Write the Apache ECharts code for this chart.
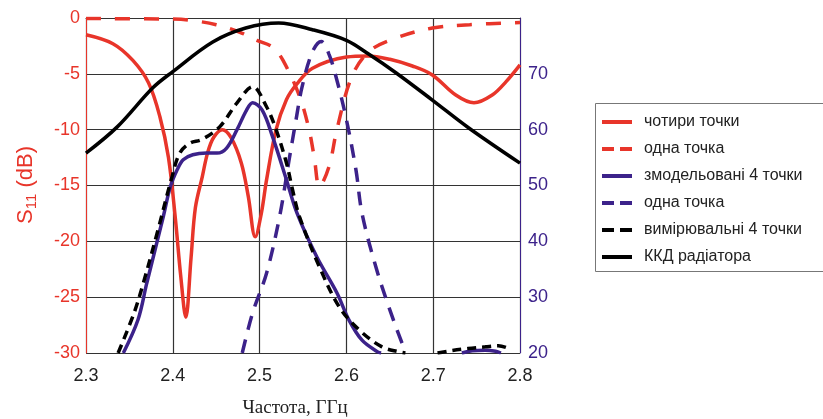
<!DOCTYPE html>
<html><head><meta charset="utf-8">
<script src="https://cdn.jsdelivr.net/npm/echarts@6/dist/echarts.min.js"></script>
<style>html,body{margin:0;padding:0;background:#fff}#c{width:823px;height:419px}</style>
</head><body><div id="c"></div>
<script>
// ---- data ----
const xTicks = [2.3, 2.4, 2.5, 2.6, 2.7, 2.8];
const leftTicks = [-30, -25, -20, -15, -10, -5, 0];
const rightTicks = [20, 30, 40, 50, 60, 70];

const seriesNames = ['чотири точки', 'одна точка', 'змодельовані 4 точки', 'одна точка ', 'вимірювальні 4 точки', 'ККД радіатора'];

// S11, four points (dB)
const redSolidX = [2.300, 2.331, 2.354, 2.372, 2.385, 2.395, 2.403, 2.409, 2.415, 2.421, 2.426, 2.434, 2.440, 2.447, 2.457, 2.467, 2.479, 2.487, 2.495, 2.502, 2.508, 2.519, 2.531, 2.543, 2.561, 2.600, 2.625, 2.650, 2.676, 2.699, 2.726, 2.747, 2.768, 2.784, 2.800];
const redSolidY = [-1.5, -2.3, -3.8, -5.8, -8.8, -12.5, -18.0, -23.0, -26.8, -21.5, -17.0, -14.2, -12.1, -10.7, -10.0, -10.7, -13.0, -16.0, -19.6, -17.5, -14.5, -10.0, -7.3, -5.9, -4.5, -3.5, -3.4, -3.7, -4.3, -5.1, -6.9, -7.6, -6.9, -5.7, -4.2];

// S11, one point (dB)
const redDashX = [2.300, 2.400, 2.420, 2.450, 2.478, 2.497, 2.515, 2.527, 2.546, 2.557, 2.563, 2.569, 2.580, 2.589, 2.606, 2.626, 2.657, 2.699, 2.742, 2.800];
const redDashY = [-0.05, -0.1, -0.2, -0.6, -1.3, -2.0, -2.6, -3.8, -7.0, -10.0, -12.5, -15.1, -13.3, -10.0, -5.3, -3.0, -1.8, -0.9, -0.6, -0.4];

// efficiency, simulated 4 points (%)
const purpleSolidX = [2.343, 2.360, 2.370, 2.389, 2.397, 2.405, 2.412, 2.423, 2.439, 2.451, 2.462, 2.474, 2.485, 2.492, 2.503, 2.515, 2.531, 2.543, 2.566, 2.589, 2.603, 2.618, 2.636, 2.640, 2.690, 2.733, 2.745, 2.760, 2.772, 2.778];
const purpleSolidY = [20, 26.0, 32.5, 44.4, 49.7, 52.8, 54.6, 55.5, 55.8, 55.8, 56.7, 60.0, 63.5, 64.8, 63.5, 58.7, 51.0, 45.1, 37.2, 30.8, 25.9, 22.3, 20.2, 20, null, 20, 20.4, 20.5, 20.3, 20];

// efficiency, one point (%)
const purpleDashX = [2.480, 2.492, 2.508, 2.523, 2.534, 2.542, 2.549, 2.561, 2.571, 2.580, 2.589, 2.600, 2.611, 2.618, 2.634, 2.649, 2.664, 2.667];
const purpleDashY = [20, 27.2, 34.3, 44.4, 54.6, 61.8, 67.7, 74.0, 75.8, 73.5, 68.9, 61.8, 52.8, 45.0, 35.4, 28.2, 21.8, 20.8];

// efficiency, measured 4 points (%)
const blackDashX = [2.337, 2.355, 2.366, 2.382, 2.399, 2.408, 2.420, 2.433, 2.454, 2.474, 2.492, 2.508, 2.519, 2.531, 2.538, 2.546, 2.569, 2.592, 2.615, 2.641, 2.661, 2.668, 2.690, 2.705, 2.720, 2.740, 2.760, 2.775, 2.790];
const blackDashY = [20, 27.0, 32.5, 41.5, 51.5, 55.8, 57.6, 58.2, 60.5, 64.8, 67.7, 64.1, 60.0, 54.0, 49.2, 44.4, 35.4, 28.2, 24.1, 21.1, 20.2, 20, null, 20, 20.4, 20.8, 21.1, 21.3, 20.6];

// radiator efficiency (%)
const blackSolidX = [2.300, 2.336, 2.377, 2.400, 2.446, 2.484, 2.522, 2.561, 2.600, 2.626, 2.657, 2.699, 2.741, 2.800];
const blackSolidY = [55.8, 60.5, 67.5, 70.4, 75.7, 78.2, 79.1, 77.9, 76.0, 73.5, 70.2, 65.3, 60.3, 54.0];

// ---- build ----
const RED = '#e8352a', PURPLE = '#3c228a', BLACK = '#000000';
const zip = (xs, ys) => xs.map((x, i) => [x, ys[i] === null ? '-' : ys[i]]);
const FONT = 'Arial, "Liberation Sans", sans-serif';

const chart = echarts.init(document.getElementById('c'), null, {renderer: 'canvas'});
function line(name, xs, ys, color, type, yIndex, width) {
  return {
    name, type: 'line', yAxisIndex: yIndex, data: zip(xs, ys),
    smooth: 0.35, symbol: 'none', connectNulls: false,
    lineStyle: {color, width: width || 3.5, type: type},
    itemStyle: {color}, animation: false
  };
}
const legendData = seriesNames.map((n, i) =>
  (i === 1 || i === 3 || i === 4) ? {name: n, lineStyle: {type: [12, 6], width: 4}} : {name: n});

chart.setOption({
  animation: false,
  grid: {left: 86, top: 18, width: 434, height: 335, containLabel: false},
  xAxis: {
    type: 'value', min: xTicks[0], max: xTicks[xTicks.length - 1], interval: 0.1,
    axisLine: {show: true, lineStyle: {color: '#333', width: 1}},
    axisTick: {show: false},
    splitLine: {show: true, lineStyle: {color: '#333', width: 1.2}},
    axisLabel: {color: '#222', fontSize: 18, fontFamily: FONT, margin: 14,
      formatter: v => xTicks.some(t => Math.abs(t - v) < 1e-6) ? v.toFixed(1) : ''}
  },
  yAxis: [{
    type: 'value', min: leftTicks[0], max: leftTicks[leftTicks.length - 1], interval: 5,
    axisLine: {show: true, lineStyle: {color: RED, width: 1}},
    axisTick: {show: false},
    splitLine: {show: true, lineStyle: {color: '#333', width: 1.2}},
    axisLabel: {color: RED, fontSize: 18, fontFamily: FONT, margin: 6}
  }, {
    type: 'value', position: 'right', min: 20, max: 80, interval: 10,
    axisLine: {show: true, lineStyle: {color: PURPLE, width: 1}},
    axisTick: {show: false},
    splitLine: {show: false},
    axisLabel: {color: PURPLE, fontSize: 18, fontFamily: FONT, margin: 8,
      formatter: v => rightTicks.indexOf(v) >= 0 ? String(v) : ''}
  }],
  legend: {
    data: legendData, orient: 'vertical', left: 600, top: 114, padding: 0,
    itemWidth: 30, itemHeight: 14, itemGap: 11,
    itemStyle: {opacity: 0},
    lineStyle: {width: 4},
    textStyle: {color: '#222', fontSize: 16, fontFamily: FONT, padding: [0, 0, 0, 7]}
  },
  graphic: [
    {type: 'rect', shape: {x: 595.5, y: 103.5, width: 240, height: 168}, style: {fill: 'none', stroke: '#777', lineWidth: 1}, silent: true},
    {type: 'text', x: 295, y: 408, style: {text: 'Частота, ГГц', font: '19px "Liberation Serif", "Times New Roman", serif', fill: '#222', align: 'center', verticalAlign: 'middle'}},
    {type: 'text', x: 27, y: 185, rotation: Math.PI / 2, style: {
      text: '{a|S}{b|11}{a| (dB)}', align: 'center', verticalAlign: 'middle',
      rich: {a: {fontSize: 22, fontFamily: FONT, fill: RED, lineHeight: 24, verticalAlign: 'top'},
             b: {fontSize: 15, fontFamily: FONT, fill: RED, lineHeight: 14, verticalAlign: 'bottom'}}}}
  ],
  series: [
    line(seriesNames[0], redSolidX, redSolidY, RED, 'solid', 0),
    line(seriesNames[1], redDashX, redDashY, RED, [15, 14], 0),
    line(seriesNames[2], purpleSolidX, purpleSolidY, PURPLE, 'solid', 1),
    line(seriesNames[3], purpleDashX, purpleDashY, PURPLE, [14, 10], 1),
    line(seriesNames[4], blackDashX, blackDashY, BLACK, [9, 6], 1),
    line(seriesNames[5], blackSolidX, blackSolidY, BLACK, 'solid', 1)
  ]
});
</script></body></html>
